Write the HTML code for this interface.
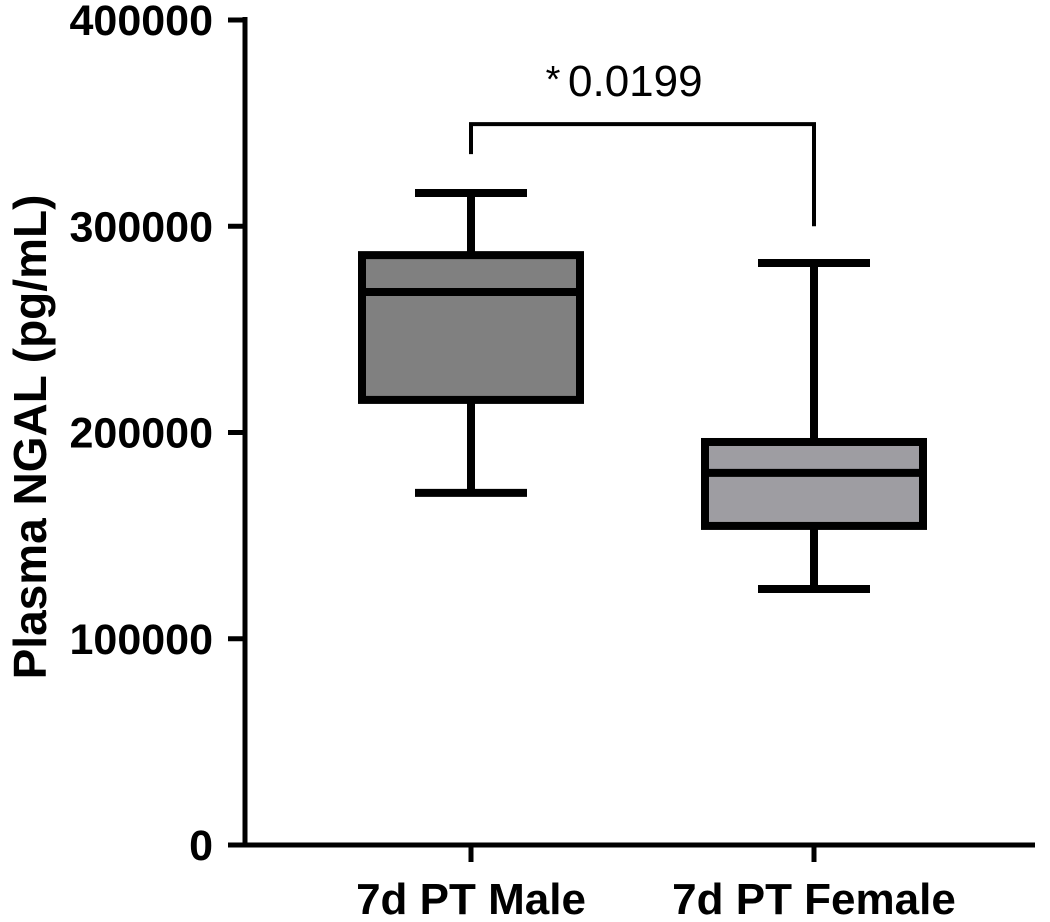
<!DOCTYPE html>
<html><head><meta charset="utf-8"><style>
html,body{margin:0;padding:0;background:#fff;}
svg{display:block;font-family:"Liberation Sans",Arial,sans-serif;}
</style></head><body>
<svg id="chart" width="1050" height="922" viewBox="0 0 1050 922"></svg>
<script>
const categories = ["7d PT Male", "7d PT Female"];
const mins = [170700, 124100];
const q1s = [215800, 154700];
const medians = [268100, 180400];
const q3s = [286000, 195400];
const maxs = [316100, 282200];
const fills = ["#808080", "#9e9da2"];
const yTicks = [0, 100000, 200000, 300000, 400000];
const pLabel = "0.0199";
const bracketEnds = [335000, 300000];
const bracketTop = 349500;

const NS = "http://www.w3.org/2000/svg";
const svg = document.getElementById("chart");
const y0 = 845, yTop = 20, yMax = 400000;
function y(v){ return y0 - v * (y0 - yTop) / yMax; }
const xCenters0 = 471, xStep = 343;
function x(i){ return xCenters0 + i * xStep; }
function mk(tag, attrs, parent){
  const e = document.createElementNS(NS, tag);
  for (const k in attrs) e.setAttribute(k, attrs[k]);
  (parent || svg).appendChild(e);
  return e;
}
const SW = 8;
const ya = mk("line", {x1:245, y1:yTop-3, x2:245, y2:y0+2, stroke:"#000", "stroke-width":5});


const xa = mk("line", {x1:243, y1:y0, x2:1035, y2:y0, stroke:"#000", "stroke-width":5});


yTicks.forEach(function(t){
  const tl = mk("line", {x1:228, y1:y(t), x2:245, y2:y(t), stroke:"#000", "stroke-width":5});
  
  
  const tx = mk("text", {x:213, y:y(t)+15, "text-anchor":"end", "font-size":43, "font-weight":"bold"});
  tx.textContent = String(t);
  
  
});
const yt = mk("text", {x:0, y:0, transform:"translate(46,437) rotate(-90)", "text-anchor":"middle", "font-size":46, "font-weight":"bold"});
yt.textContent = "Plasma NGAL (pg/mL)";



categories.forEach(function(c, i){
  const cx = x(i);
  const g = mk("g", {});
  
  
  const tm = mk("line", {x1:cx, y1:y0, x2:cx, y2:y0+17, stroke:"#000", "stroke-width":5}, g);
  
  
  const w1 = mk("line", {x1:cx, y1:y(maxs[i]), x2:cx, y2:y(q3s[i]), stroke:"#000", "stroke-width":SW}, g);
  
  
  const w2 = mk("line", {x1:cx, y1:y(q1s[i]), x2:cx, y2:y(mins[i]), stroke:"#000", "stroke-width":SW}, g);
  
  
  const c1 = mk("line", {x1:cx-56, y1:y(maxs[i]), x2:cx+56, y2:y(maxs[i]), stroke:"#000", "stroke-width":SW}, g);
  
  
  const c2 = mk("line", {x1:cx-56, y1:y(mins[i]), x2:cx+56, y2:y(mins[i]), stroke:"#000", "stroke-width":SW}, g);
  
  
  const r = mk("rect", {x:cx-109, y:y(q3s[i]), width:218, height:y(q1s[i])-y(q3s[i]), fill:fills[i], stroke:"#000", "stroke-width":SW}, g);
  
  
  const m = mk("line", {x1:cx-109, y1:y(medians[i]), x2:cx+109, y2:y(medians[i]), stroke:"#000", "stroke-width":SW}, g);
  
  
  const lb = mk("text", {x:cx, y:914, "text-anchor":"middle", "font-size":44, "font-weight":"bold"});
  lb.textContent = c;
  
  
});
const br = mk("polyline", {points: x(0)+","+y(bracketEnds[0])+" "+x(0)+","+y(bracketTop)+" "+x(1)+","+y(bracketTop)+" "+x(1)+","+y(bracketEnds[1]), fill:"none", stroke:"#000", "stroke-width":4});


const ast = mk("text", {x:553, y:92, "text-anchor":"middle", "font-size":38});
ast.textContent = "*";


const pt = mk("text", {x:568, y:96, "text-anchor":"start", "font-size":44});
pt.textContent = pLabel;


</script>
</body></html>
